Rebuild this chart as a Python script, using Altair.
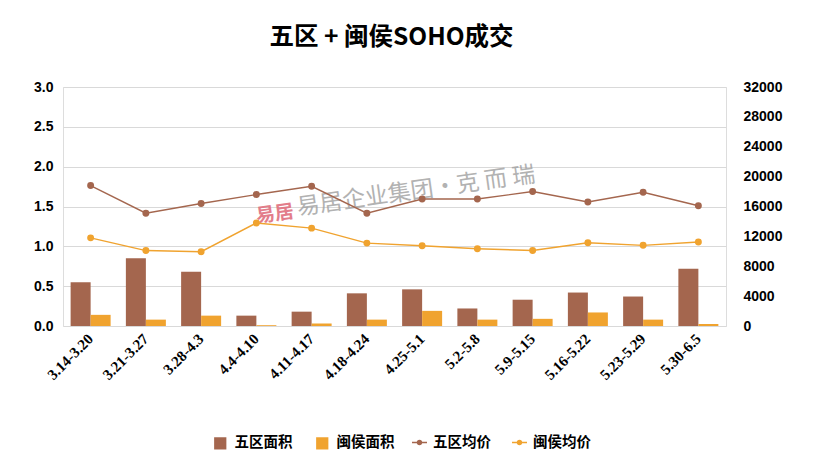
import altair as alt
import pandas as pd

cats = ["3.14-3.20", "3.21-3.27", "3.28-4.3", "4.4-4.10", "4.11-4.17", "4.18-4.24",
        "4.25-5.1", "5.2-5.8", "5.9-5.15", "5.16-5.22", "5.23-5.29", "5.30-6.5"]
wuqu_area = [0.55, 0.85, 0.68, 0.13, 0.18, 0.41, 0.46, 0.22, 0.33, 0.42, 0.37, 0.72]
minhou_area = [0.14, 0.08, 0.13, 0.01, 0.03, 0.08, 0.19, 0.08, 0.09, 0.17, 0.08, 0.025]
wuqu_price = [18800, 15100, 16400, 17600, 18700, 15100, 17000, 17000, 18000, 16600, 17900, 16100]
minhou_price = [11800, 10100, 9950, 13800, 13100, 11100, 10750, 10350, 10100, 11150, 10800, 11250]

left_ticks = [0, 0.5, 1.0, 1.5, 2.0, 2.5, 3.0]
right_ticks = [0, 4000, 8000, 12000, 16000, 20000, 24000, 28000, 32000]

bar_series = ["五区面积", "闽侯面积"]
line_series = ["五区均价", "闽侯均价"]
bar_colors = ["#A4664E", "#F0A32F"]
line_colors = ["#A4664E", "#F0A32F"]

title_text = "五区 + 闽侯SOHO成交"
watermark = "易居企业集团·克 而 瑞"
stamp = "易居"

bars_df = pd.DataFrame(
    [{"cat": c, "bseries": bar_series[0], "value": v} for c, v in zip(cats, wuqu_area)]
    + [{"cat": c, "bseries": bar_series[1], "value": v} for c, v in zip(cats, minhou_area)]
)
lines_df = pd.DataFrame(
    [{"cat": c, "lseries": line_series[0], "price": v} for c, v in zip(cats, wuqu_price)]
    + [{"cat": c, "lseries": line_series[1], "price": v} for c, v in zip(cats, minhou_price)]
)

x_enc = alt.X(
    "cat:N", sort=cats, title=None,
    scale=alt.Scale(paddingInner=0.276, paddingOuter=0.138),
    axis=alt.Axis(labelAngle=315, labelAlign="right", labelBaseline="middle",
                  labelFont="Liberation Serif", labelFontWeight="bold", labelFontSize=15,
                  labelColor="#000000", labelPadding=10, domain=False, ticks=False,
                  grid=False, labelOverlap=False),
)

bars = alt.Chart(bars_df).mark_bar().encode(
    x=x_enc,
    xOffset=alt.XOffset("bseries:N", sort=bar_series,
                        scale=alt.Scale(paddingInner=0, paddingOuter=0)),
    y=alt.Y("value:Q", title=None, scale=alt.Scale(domain=[0, 3], nice=False),
            axis=alt.Axis(values=left_ticks, format=".1f", orient="left",
                          labelFont="Liberation Sans", labelFontWeight="bold",
                          labelFontSize=14, labelColor="#000000", labelPadding=10,
                          domain=False, ticks=False, grid=True, gridColor="#D9D9D9",
                          gridWidth=1)),
    color=alt.Color("bseries:N", sort=bar_series,
                    scale=alt.Scale(domain=bar_series, range=bar_colors),
                    legend=alt.Legend(orient="none", legendX=150, legendY=349,
                                      direction="horizontal", title=None,
                                      symbolType="square", symbolSize=150,
                                      labelFont="Noto Sans CJK SC", labelFontWeight="bold",
                                      labelFontSize=14.5, labelColor="#000000",
                                      labelOffset=7, columnPadding=22)),
)

right_axis = alt.Axis(values=right_ticks, format="d", orient="right",
                      labelFont="Liberation Sans", labelFontWeight="bold",
                      labelFontSize=14, labelColor="#000000", labelPadding=17,
                      domain=False, ticks=False, grid=False)
price_scale = alt.Scale(domain=[0, 32000], nice=False)

lines = alt.Chart(lines_df).mark_line(strokeWidth=1.4).encode(
    x=alt.X("cat:N", sort=cats),
    y=alt.Y("price:Q", title=None, scale=price_scale, axis=right_axis),
    stroke=alt.Stroke("lseries:N", sort=line_series,
                      scale=alt.Scale(domain=line_series, range=line_colors),
                      legend=None),
)

legend_path = "M-1,-0.09H1V0.09H-1Z M0.38,0A0.38,0.38 0 1,1 -0.38,0A0.38,0.38 0 1,1 0.38,0Z"

points = alt.Chart(lines_df).mark_circle(size=48, opacity=1).encode(
    x=alt.X("cat:N", sort=cats),
    y=alt.Y("price:Q", title=None, scale=price_scale, axis=None),
    fill=alt.Fill("lseries:N", sort=line_series,
                  scale=alt.Scale(domain=line_series, range=line_colors),
                  legend=alt.Legend(orient="none", legendX=348, legendY=347,
                                    direction="horizontal", title=None,
                                    symbolType=legend_path, symbolSize=225,
                                    labelFont="Noto Sans CJK SC", labelFontWeight="bold",
                                    labelFontSize=14.5, labelColor="#000000",
                                    labelOffset=5, columnPadding=20)),
)

wm = alt.Chart(pd.DataFrame({"t": [watermark]})).mark_text(
    font="Noto Sans CJK SC", fontSize=23, color="#A0A0A0", opacity=0.8,
    align="left", baseline="middle", angle=352,
).encode(text="t:N", x=alt.value(234), y=alt.value(121))

st = alt.Chart(pd.DataFrame({"t": [stamp]})).mark_text(
    font="Noto Sans CJK SC", fontSize=19, fontWeight="bold", color="#E0707E", opacity=0.9,
    align="center", baseline="middle", angle=352,
).encode(text="t:N", x=alt.value(212), y=alt.value(127))

chart = alt.layer(bars, wm, st, lines, points).resolve_scale(
    y="independent", fill="independent", color="independent"
).resolve_legend(color="independent", fill="independent").properties(
    width=663,
    height=239,
    autosize=alt.AutoSizeParams(type="none"),
    padding={"left": 55, "top": 79, "right": 81, "bottom": 130},
    title=alt.TitleParams(title_text, font="Noto Sans CJK SC", fontSize=24.5,
                          fontWeight="bold", color="#000000", anchor="middle",
                          frame="group", offset=30, dx=-3),
).configure_view(stroke=None).configure(background="#FFFFFF")

chart.save("out.html", embed_options={"renderer": "svg", "actions": False})
